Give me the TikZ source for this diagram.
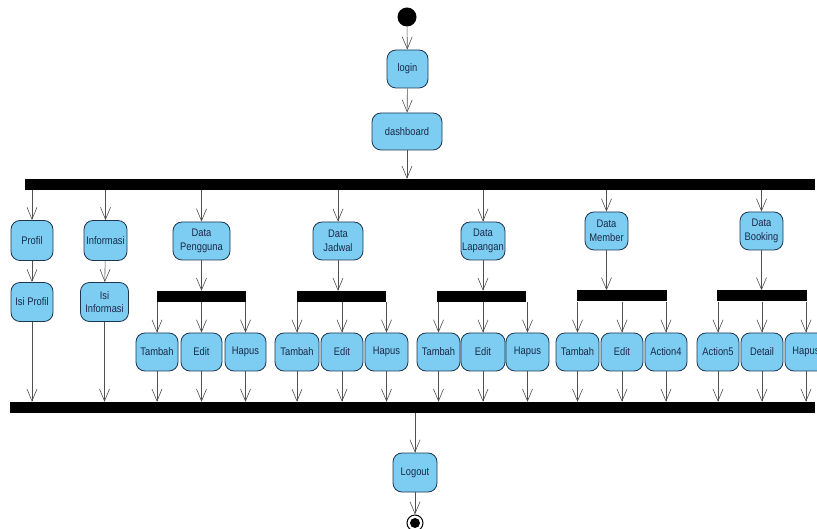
\documentclass[tikz,border=0pt]{standalone}
\usepackage{fontspec}
\setmainfont[FakeStretch=0.85]{Liberation Sans}
\usetikzlibrary{arrows.meta}
\definecolor{actfill}{HTML}{7DCDF2}
\definecolor{actline}{HTML}{1E3550}
\definecolor{acttext}{HTML}{1A2A48}
\definecolor{conn}{HTML}{505050}
\tikzset{
  act/.style={draw=actline, line width=0.8pt, fill=actfill, rounded corners=9pt,
    inner sep=0pt, align=center, text=acttext, font=\fontsize{11}{13.5}\selectfont},
  bar/.style={fill=black, draw=none, inner sep=0pt},
  arr/.style={draw=conn, line width=0.6pt, -{Straight Barb[length=12pt,width=10pt]}},
}
\begin{document}
\begin{tikzpicture}[x=1pt,y=-1pt]
\useasboundingbox (0,0) rectangle (817,529);
% start/end
\node[circle, fill=black, minimum size=19pt, inner sep=0pt] (init) at (407,17) {};
\node[act, minimum width=41pt, minimum height=38pt] (login) at (407.5,69) {login};
\node[act, minimum width=70pt, minimum height=37pt] (dash) at (407,131.5) {dashboard};
\node[bar, minimum width=790pt, minimum height=11pt] (top) at (420,184.5) {};
\node[bar, minimum width=805pt, minimum height=11pt] (bot) at (412.5,407.5) {};
\node[act, minimum width=44pt, minimum height=39pt] (logout) at (415,472.5) {Logout};
\node[circle, draw=black, line width=1pt, fill=white, minimum size=16pt, inner sep=0pt] (fin) at (415,523) {};
\node[circle, fill=black, minimum size=10pt, inner sep=0pt] (finin) at (fin.center) {};

\draw[arr] (init) -- (login);
\draw[arr] (login) -- (dash);
\draw[arr] (dash) -- (dash.south |- top.north);
\draw[arr] (logout.north |- bot.south) -- (logout.north);
\draw[arr] (logout) -- (fin);

% Profil / Informasi
\node[act, minimum width=42pt, minimum height=40pt] (profil) at (32,240.5) {Profil};
\node[act, minimum width=42pt, minimum height=39pt] (isiprofil) at (32,302) {Isi Profil};
\node[act, minimum width=43pt, minimum height=40pt] (info) at (105.5,240.5) {Informasi};
\node[act, minimum width=48pt, minimum height=39pt] (isiinfo) at (104.5,302) {Isi\\Informasi};
\draw[arr] (profil.north |- top.south) -- (profil.north);
\draw[arr] (profil) -- (isiprofil);
\draw[arr] (isiprofil.south) -- (isiprofil.south |- bot.north);
\draw[arr] (info.north |- top.south) -- (info.north);
\draw[arr] (info) -- (isiinfo);
\draw[arr] (isiinfo.south) -- (isiinfo.south |- bot.north);

% Pengguna
\node[act, minimum width=57pt, minimum height=38pt] (peng) at (201.5,241) {Data\\Pengguna};
\node[bar, minimum width=89pt, minimum height=11pt] (pbar) at (201.5,296.5) {};
\node[act, minimum width=42pt, minimum height=38pt] (p1) at (157,352) {Tambah};
\node[act, minimum width=41pt, minimum height=38pt] (p2) at (201.5,352) {Edit};
\node[act, minimum width=41pt, minimum height=38pt] (p3) at (245.5,352) {Hapus};
% Jadwal
\node[act, minimum width=50pt, minimum height=38pt] (jad) at (338,241) {Data\\Jadwal};
\node[bar, minimum width=89pt, minimum height=11pt] (jbar) at (341.5,296.5) {};
\node[act, minimum width=44pt, minimum height=38pt] (j1) at (297,352) {Tambah};
\node[act, minimum width=42pt, minimum height=38pt] (j2) at (342,352) {Edit};
\node[act, minimum width=43pt, minimum height=38pt] (j3) at (386.5,352) {Hapus};
% Lapangan
\node[act, minimum width=44pt, minimum height=38pt] (lap) at (483,241) {Data\\Lapangan};
\node[bar, minimum width=89pt, minimum height=11pt] (lbar) at (481.5,296.5) {};
\node[act, minimum width=43pt, minimum height=38pt] (l1) at (438.5,352) {Tambah};
\node[act, minimum width=44pt, minimum height=38pt] (l2) at (483,352) {Edit};
\node[act, minimum width=43pt, minimum height=38pt] (l3) at (527.5,352) {Hapus};
% Member
\node[act, minimum width=43pt, minimum height=38pt] (mem) at (606.5,231) {Data\\Member};
\node[bar, minimum width=90pt, minimum height=11pt] (mbar) at (622,296) {};
\node[act, minimum width=43pt, minimum height=38pt] (m1) at (577.5,352) {Tambah};
\node[act, minimum width=42pt, minimum height=38pt] (m2) at (622,352) {Edit};
\node[act, minimum width=42pt, minimum height=38pt] (m3) at (666,352) {Action4};
% Booking
\node[act, minimum width=43pt, minimum height=38pt] (book) at (761.5,231) {Data\\Booking};
\node[bar, minimum width=90pt, minimum height=11pt] (bbar) at (762,296) {};
\node[act, minimum width=42pt, minimum height=38pt] (b1) at (718,352) {Action5};
\node[act, minimum width=42pt, minimum height=38pt] (b2) at (762,352) {Detail};
\node[act, minimum width=42pt, minimum height=38pt] (b3) at (806,352) {Hapus};

\foreach \g/\b/\x/\y/\z in {peng/pbar/p1/p2/p3, jad/jbar/j1/j2/j3, lap/lbar/l1/l2/l3, mem/mbar/m1/m2/m3, book/bbar/b1/b2/b3}{
  \draw[arr] (\g.north |- top.south) -- (\g.north);
  \draw[arr] (\g.south) -- (\g.south |- \b.north);
  \foreach \n in {\x,\y,\z}{
    \draw[arr] (\n.north |- \b.south) -- (\n.north);
    \draw[arr] (\n.south) -- (\n.south |- bot.north);
  }
}
\end{tikzpicture}
\end{document}
